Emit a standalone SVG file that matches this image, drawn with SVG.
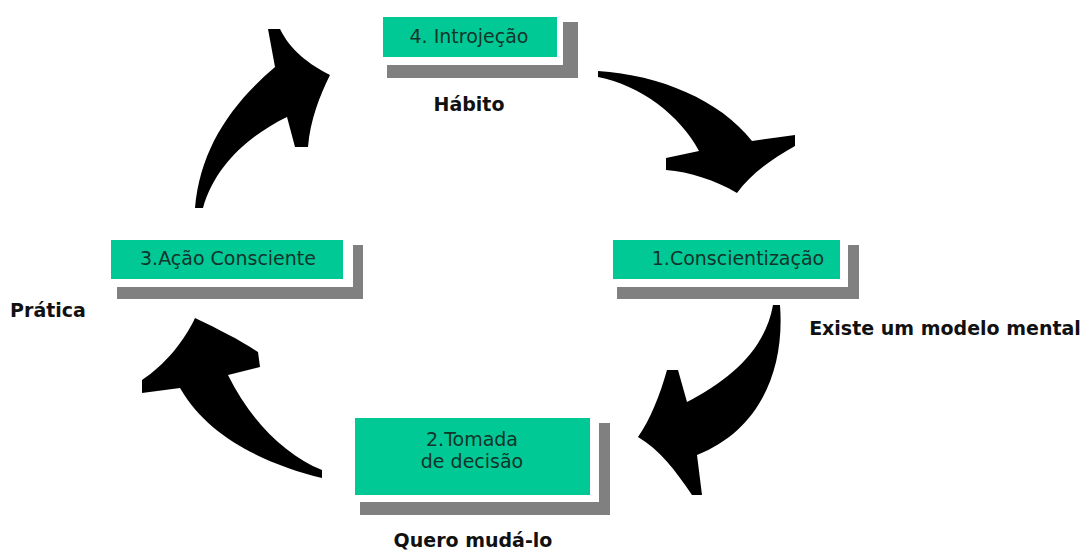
<svg xmlns="http://www.w3.org/2000/svg" width="1085" height="553" viewBox="0 0 1085 553">
<style>
.sh{fill:#808080}
.gap{fill:#ffffff}
.bx{fill:#00c996}
.t{font-family:"DejaVu Sans",Verdana,sans-serif;font-size:19px;fill:#13342a;text-anchor:middle}
.b{font-family:"DejaVu Sans",Verdana,sans-serif;font-size:19px;font-weight:bold;fill:#111;text-anchor:middle}
.ar{fill:#000}
</style>
<rect width="1085" height="553" fill="#fff"/>
<g id="node4">
<rect class="sh" x="387" y="22" width="191" height="56"/>
<rect class="gap" x="377" y="11" width="186" height="54"/>
<rect class="bx" x="383" y="17" width="174" height="40"/>
<text class="t" x="469" y="43">4. Introjeção</text>
</g>
<g id="node1">
<rect class="sh" x="617" y="245" width="242" height="54"/>
<rect class="gap" x="607" y="234" width="241" height="53"/>
<rect class="bx" x="613" y="240" width="227" height="39"/>
<text class="t" x="738" y="265">1.Conscientização</text>
</g>
<g id="node3">
<rect class="sh" x="117" y="245" width="246" height="54"/>
<rect class="gap" x="105" y="234" width="248" height="53"/>
<rect class="bx" x="111" y="240" width="232" height="39"/>
<text class="t" x="228" y="265">3.Ação Consciente</text>
</g>
<g id="node2">
<rect class="sh" x="360" y="423" width="250" height="92"/>
<rect class="gap" x="349" y="412" width="250" height="90"/>
<rect class="bx" x="355" y="418" width="235" height="77"/>
<text class="t" x="472" y="446">2.Tomada</text>
<text class="t" x="472" y="468">de decisão</text>
</g>
<g id="labels">
<text class="b" x="469" y="111">Hábito</text>
<text class="b" x="945" y="335">Existe um modelo mental</text>
<text class="b" x="48" y="317">Prática</text>
<text class="b" x="473" y="547">Quero mudá-lo</text>
</g>
<g id="connectors">
<path class="ar" d="M598,71 C660,75 720,100 752,141 L795,135 L795,146 C770,160 750,175 737,193 C715,180 690,172 666,170 L666,158 L699,151 C680,115 640,85 598,77 Z"/>
<path class="ar" d="M773,305 L780,305 C785,370 760,430 697,455 L702,495 L692,495 C675,470 660,450 638,437 C650,420 660,395 667,370 L678,370 L687,402 C730,380 765,350 773,305 Z"/>
<path class="ar" d="M195,318 C220,330 240,340 258,352 L260,367 L228,375 C250,420 285,455 322,470 L322,478 C270,465 210,440 180,388 L142,393 L142,380 C165,365 185,340 195,318 Z"/>
<path class="ar" d="M195,208 C200,150 230,105 275,67 L268,29 L280,29 C290,50 310,65 330,75 C320,95 310,120 308,147 L295,147 L287,117 C250,135 215,165 203,208 Z"/>
</g>
</svg>
